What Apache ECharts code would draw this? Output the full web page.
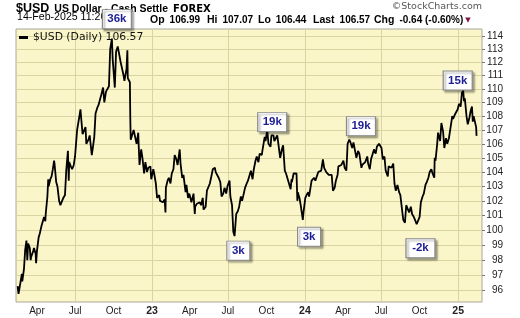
<!DOCTYPE html>
<html>
<head>
<meta charset="utf-8">
<script src="https://cdn.jsdelivr.net/npm/echarts@6/dist/echarts.min.js"></script>
<style>
html,body{margin:0;padding:0;background:#ffffff;}
#chart{width:520px;height:318px;}
</style>
</head>
<body>
<div id="chart"></div>
<script>
// ---- data: daily closes of $USD, [date, close] ----
const usd2022 = [
  ['2022-02-14',96.3],['2022-02-16',95.8],['2022-02-18',96.1],['2022-02-22',96.0],['2022-02-24',97.1],['2022-02-25',96.6],
  ['2022-03-01',97.4],['2022-03-04',98.7],['2022-03-07',99.3],['2022-03-09',98.0],['2022-03-11',99.1],['2022-03-15',98.8],
  ['2022-03-17',98.0],['2022-03-18',98.2],['2022-03-23',98.6],['2022-03-25',98.8],['2022-03-29',98.4],['2022-03-30',97.8],
  ['2022-04-01',98.6],['2022-04-05',99.5],['2022-04-08',99.8],['2022-04-12',100.3],['2022-04-14',100.3],['2022-04-18',100.9],
  ['2022-04-21',100.6],['2022-04-22',101.1],['2022-04-26',102.3],['2022-04-28',103.5],['2022-04-29',103.0],
  ['2022-05-03',103.5],['2022-05-06',103.7],['2022-05-09',104.2],['2022-05-12',104.8],['2022-05-13',104.6],['2022-05-17',103.3],
  ['2022-05-20',103.0],['2022-05-24',102.0],['2022-05-27',101.7],['2022-05-31',101.8],
  ['2022-06-03',102.2],['2022-06-07',102.4],['2022-06-10',104.1],['2022-06-14',105.5],['2022-06-16',103.4],['2022-06-17',104.7],
  ['2022-06-21',104.4],['2022-06-24',104.2],['2022-06-28',104.5],
  ['2022-07-01',105.1],['2022-07-06',107.0],['2022-07-08',107.0],['2022-07-12',108.1],['2022-07-14',108.5],['2022-07-15',108.1],
  ['2022-07-19',106.7],['2022-07-22',106.7],['2022-07-26',107.2],['2022-07-28',106.0],['2022-07-29',105.9],
  ['2022-08-02',106.3],['2022-08-05',106.6],['2022-08-10',105.2],['2022-08-12',105.6],['2022-08-16',106.5],['2022-08-19',108.2],
  ['2022-08-23',108.6],['2022-08-26',108.8],['2022-08-29',108.8],
  ['2022-09-02',109.6],['2022-09-06',110.1],['2022-09-09',109.0],['2022-09-13',109.8],['2022-09-16',109.8],['2022-09-20',110.2],
  ['2022-09-23',113.0],['2022-09-27',113.8],['2022-09-29',112.2],['2022-09-30',112.1],
  ['2022-10-04',110.1],['2022-10-07',112.8],['2022-10-11',113.2],['2022-10-14',113.3],['2022-10-18',112.0],['2022-10-21',111.9],
  ['2022-10-25',111.0],['2022-10-27',110.6],['2022-10-28',110.8],
  ['2022-11-01',111.5],['2022-11-03',112.9],['2022-11-04',110.8],['2022-11-09',110.5],['2022-11-10',107.8],['2022-11-11',106.3],
  ['2022-11-15',106.4],['2022-11-18',107.0],['2022-11-22',107.1],['2022-11-25',106.0],['2022-11-29',106.8],['2022-11-30',105.9],
  ['2022-12-02',104.5],['2022-12-06',105.6],['2022-12-09',105.0],['2022-12-13',103.9],['2022-12-15',104.4],['2022-12-16',104.7],
  ['2022-12-20',104.0],['2022-12-23',104.3],['2022-12-28',104.4],['2022-12-30',103.5]
];
const usd2023 = [
  ['2023-01-04',104.2],['2023-01-06',103.9],['2023-01-10',103.2],['2023-01-13',102.2],['2023-01-18',102.4],['2023-01-20',102.0],
  ['2023-01-24',101.9],['2023-01-27',101.9],['2023-01-31',102.1],
  ['2023-02-02',101.2],['2023-02-03',102.9],['2023-02-07',103.4],['2023-02-10',103.6],['2023-02-14',103.2],['2023-02-17',103.9],
  ['2023-02-21',104.2],['2023-02-24',105.2],['2023-02-28',104.9],
  ['2023-03-03',104.5],['2023-03-08',105.6],['2023-03-10',104.6],['2023-03-14',103.6],['2023-03-17',103.8],['2023-03-22',102.6],
  ['2023-03-24',103.1],['2023-03-28',102.2],['2023-03-31',102.5],
  ['2023-04-05',101.9],['2023-04-10',102.5],['2023-04-13',101.1],['2023-04-14',101.6],['2023-04-18',101.8],['2023-04-21',101.8],
  ['2023-04-25',101.9],['2023-04-28',101.7],
  ['2023-05-02',102.2],['2023-05-04',101.4],['2023-05-05',101.3],['2023-05-09',101.6],['2023-05-12',102.7],['2023-05-16',102.6],
  ['2023-05-19',103.2],['2023-05-24',103.9],['2023-05-26',104.2],['2023-05-31',104.3],
  ['2023-06-02',104.0],['2023-06-06',104.1],['2023-06-09',103.6],['2023-06-13',103.3],['2023-06-16',102.3],['2023-06-20',102.5],
  ['2023-06-23',102.9],['2023-06-27',102.5],['2023-06-30',103.0],
  ['2023-07-05',103.4],['2023-07-07',102.3],['2023-07-11',101.7],['2023-07-14',99.9],['2023-07-17',99.6],['2023-07-21',101.1],
  ['2023-07-25',101.3],['2023-07-28',101.6],
  ['2023-08-01',102.3],['2023-08-04',102.0],['2023-08-08',102.5],['2023-08-11',102.9],['2023-08-15',103.2],['2023-08-18',103.4],
  ['2023-08-22',103.5],['2023-08-25',104.1],['2023-08-29',103.5],
  ['2023-09-01',104.2],['2023-09-05',104.8],['2023-09-08',105.1],['2023-09-12',104.7],['2023-09-15',105.3],['2023-09-20',105.2],
  ['2023-09-22',105.6],['2023-09-27',106.5],['2023-09-29',106.2],
  ['2023-10-03',107.0],['2023-10-06',106.0],['2023-10-11',105.8],['2023-10-13',106.6],['2023-10-18',106.6],['2023-10-20',106.2],
  ['2023-10-24',106.3],['2023-10-27',106.6],['2023-10-31',106.7],
  ['2023-11-03',105.0],['2023-11-07',105.6],['2023-11-10',105.9],['2023-11-14',104.1],['2023-11-17',103.9],['2023-11-21',103.5],
  ['2023-11-24',103.4],['2023-11-28',102.8],['2023-11-30',103.5],
  ['2023-12-01',103.3],['2023-12-05',103.9],['2023-12-08',104.0],['2023-12-12',103.9],['2023-12-14',102.0],['2023-12-15',102.6],
  ['2023-12-19',102.2],['2023-12-22',101.7],['2023-12-27',100.7],['2023-12-29',101.3]
];
const usd2024 = [
  ['2024-01-02',102.2],['2024-01-05',102.4],['2024-01-09',102.6],['2024-01-11',102.3],['2024-01-12',102.4],['2024-01-17',103.4],
  ['2024-01-19',103.3],['2024-01-23',103.6],['2024-01-26',103.4],['2024-01-30',103.4],
  ['2024-02-02',104.0],['2024-02-06',104.1],['2024-02-09',104.1],['2024-02-13',104.9],['2024-02-16',104.3],['2024-02-21',104.0],
  ['2024-02-23',103.9],['2024-02-27',103.8],
  ['2024-03-01',103.9],['2024-03-05',103.8],['2024-03-08',102.7],['2024-03-12',102.9],['2024-03-15',103.4],['2024-03-19',103.8],
  ['2024-03-21',104.4],['2024-03-22',104.4],['2024-03-28',104.5],
  ['2024-04-02',104.8],['2024-04-05',104.3],['2024-04-09',104.1],['2024-04-11',105.3],['2024-04-12',106.0],['2024-04-16',106.3],
  ['2024-04-19',106.1],['2024-04-23',105.7],['2024-04-26',106.1],['2024-04-30',106.2],
  ['2024-05-03',105.0],['2024-05-07',105.5],['2024-05-10',105.3],['2024-05-15',104.3],['2024-05-17',104.5],['2024-05-21',104.6],
  ['2024-05-24',104.7],['2024-05-29',105.1],['2024-05-31',104.6],
  ['2024-06-04',104.2],['2024-06-07',104.9],['2024-06-11',105.3],['2024-06-14',105.6],['2024-06-18',105.3],['2024-06-21',105.8],
  ['2024-06-26',106.0],['2024-06-28',105.9],
  ['2024-07-02',105.7],['2024-07-05',104.9],['2024-07-09',105.1],['2024-07-12',104.1],['2024-07-17',103.7],['2024-07-19',104.4],
  ['2024-07-23',104.5],['2024-07-26',104.3],['2024-07-30',104.6],
  ['2024-08-02',103.2],['2024-08-05',102.7],['2024-08-09',103.1],['2024-08-13',102.6],['2024-08-16',102.4],['2024-08-20',101.4],
  ['2024-08-23',100.7],['2024-08-27',100.5],['2024-08-30',101.7],
  ['2024-09-03',101.8],['2024-09-06',101.2],['2024-09-10',101.6],['2024-09-13',101.1],['2024-09-17',100.9],['2024-09-20',100.7],
  ['2024-09-24',100.4],['2024-09-27',100.3],
  ['2024-10-01',100.9],['2024-10-04',101.9],['2024-10-08',102.3],['2024-10-11',102.5],['2024-10-15',103.1],['2024-10-18',103.3],
  ['2024-10-22',103.6],['2024-10-25',104.0],['2024-10-29',104.2],
  ['2024-11-01',103.9],['2024-11-05',103.6],['2024-11-06',105.0],['2024-11-08',104.8],['2024-11-12',106.0],['2024-11-14',106.8],
  ['2024-11-19',106.2],['2024-11-22',107.5],['2024-11-26',106.9],['2024-11-29',105.7],
  ['2024-12-03',106.4],['2024-12-06',106.0],['2024-12-10',106.4],['2024-12-13',107.0],['2024-12-18',108.0],['2024-12-20',107.8],
  ['2024-12-24',108.1],['2024-12-27',108.0],['2024-12-31',108.5]
];
const usd2025 = [
  ['2025-01-03',108.9],['2025-01-07',108.7],['2025-01-10',109.7],['2025-01-13',109.9],['2025-01-15',109.1],['2025-01-17',109.3],
  ['2025-01-21',108.0],['2025-01-24',107.4],['2025-01-28',107.9],['2025-01-31',108.4],
  ['2025-02-03',108.7],['2025-02-05',107.6],['2025-02-07',108.0],['2025-02-11',108.0],['2025-02-13',107.2],['2025-02-14',106.57]
];

// annotation boxes: [date, price level, text]
const notes = [
  ['2022-10-09',115.3,'36k'],
  ['2023-10-15',107.57,'19k'],
  ['2023-07-26',98.63,'3k'],
  ['2024-01-11',99.56,'3k'],
  ['2024-05-14',107.28,'19k'],
  ['2024-10-03',98.79,'-2k'],
  ['2024-12-31',110.63,'15k']
];

// axis ticks
const labelMonths = ['2022-04-01','2022-07-01','2022-10-01','2023-01-01','2023-04-01','2023-07-01',
                     '2023-10-01','2024-01-01','2024-04-01','2024-07-01','2024-10-01','2025-01-01'];
const labelTexts  = ['Apr','Jul','Oct','23','Apr','Jul','Oct','24','Apr','Jul','Oct','25'];
const gridMonths  = ['2022-07-01','2023-01-01','2023-07-01','2024-01-01','2024-07-01','2025-01-01'];
const priceTicks  = [96,97,98,99,100,101,102,103,104,105,106,107,108,109,110,111,112,113,114];
const xRange = ['2022-02-10','2025-02-27'];
const yRange = [95.27, 114.54];

// header texts
const header = {
  symbol: '$USD', name: 'US Dollar - Cash Settle', exch: 'FOREX', stamp: '14-Feb-2025 11:26',
  op: '106.99', hi: '107.07', lo: '106.44', last: '106.57', chg: '-0.64 (-0.60%)'
};

function ts(s){ const p = s.split('-').map(Number); return Date.UTC(p[0], p[1]-1, p[2]); }

const allRows = usd2022.concat(usd2023, usd2024, usd2025);
const lineData = allRows.map(r => [ts(r[0]), r[1]]);
const lastClose = allRows[allRows.length-1][1];
const labelTs = labelMonths.map(ts);
const gridTs = gridMonths.map(ts);

const chart = echarts.init(document.getElementById('chart'), null, {renderer:'canvas'});
const AR = 'Liberation Sans, Arial, sans-serif';
const DV = 'DejaVu Sans, Verdana, sans-serif';

const keyStyle = {fontFamily: AR, fontWeight: 'bold', fontSize: 10.5, color: '#000', lineHeight: 12};
const numStyle = {fontFamily: AR, fontSize: 10, color: '#000', lineHeight: 12};
const statTitle = (left, key, val) => ({
  left: left, top: 11, padding: 0,
  text: '{b|' + key + '} {n|' + val + '}',
  textStyle: { rich: { b: keyStyle, n: numStyle } }
});

const option = {
  animation: false,
  backgroundColor: '#ffffff',
  title: [
    { left: 16, top: 0, padding: 0,
      text: '{a|' + header.symbol + '} {b|' + header.name + '} {c|' + header.exch + '}',
      textStyle: { rich: {
        a: {fontFamily: AR, fontWeight: 'bold', fontSize: 12.5, color: '#000', lineHeight: 14},
        b: {fontFamily: AR, fontSize: 10.5, color: '#000', lineHeight: 14},
        c: {fontFamily: DV, fontSize: 10, color: '#000', lineHeight: 14}
      }}
    },
    { left: 17, top: 11, padding: 0, text: header.stamp,
      textStyle: {fontFamily: AR, fontSize: 10.6, fontWeight: 'normal', color: '#000', lineHeight: 12} },
    statTitle(150, 'Op', header.op),
    statTitle(207, 'Hi', header.hi),
    statTitle(258, 'Lo', header.lo),
    statTitle(313, 'Last', header.last),
    { left: 374, top: 11, padding: 0,
      text: '{b|Chg} {n|' + header.chg + '}{t|▼}',
      textStyle: { rich: {
        b: keyStyle, n: numStyle,
        t: {fontFamily: DV, fontSize: 7, color: '#7a1640', lineHeight: 12, padding: [0,0,0,2]}
      }}
    },
    { right: 38, top: 1, padding: 0, text: '©StockCharts.com',
      textStyle: {fontFamily: DV, fontSize: 9.5, fontWeight: 'normal', color: '#555', lineHeight: 12} }
  ],
  legend: {
    left: 19, top: 32, padding: 0,
    data: [{name: '$USD (Daily)', icon: 'rect'}],
    itemWidth: 9, itemHeight: 3,
    formatter: name => name + ' ' + lastClose.toFixed(2),
    textStyle: {fontFamily: DV, fontSize: 10.8, color: '#111'},
    selectedMode: false
  },
  grid: {
    left: 16, right: 38, top: 29, bottom: 16,
    show: true, backgroundColor: '#faf6c9', borderColor: '#a9a89a', borderWidth: 1
  },
  xAxis: {
    type: 'value', min: ts(xRange[0]), max: ts(xRange[1]),
    axisLine: {show: false},
    axisTick: {show: false, customValues: gridTs},
    splitLine: {show: true, lineStyle: {color: '#d9d5a3', width: 1}},
    axisLabel: {
      customValues: labelTs, margin: 4, fontFamily: AR, fontSize: 10, color: '#222',
      formatter: function (v) {
        const i = labelTs.indexOf(v);
        const t = i >= 0 ? labelTexts[i] : '';
        return /^\d+$/.test(t) ? '{y|' + t + '}' : t;
      },
      rich: {y: {fontFamily: AR, fontSize: 10.5, fontWeight: 'bold', color: '#222'}}
    }
  },
  yAxis: {
    type: 'log', logBase: 10, position: 'right',
    min: yRange[0], max: yRange[1],
    axisLine: {show: false},
    axisTick: {show: true, length: 3, customValues: priceTicks, lineStyle: {color: '#777'}},
    splitLine: {show: true, lineStyle: {color: '#d9d5a3', width: 1}},
    axisLabel: {
      customValues: priceTicks, align: 'right', margin: 21,
      fontFamily: AR, fontSize: 10, color: '#222',
      formatter: v => String(Math.round(v))
    }
  },
  series: [
    {
      name: '$USD (Daily)', type: 'line', data: lineData,
      showSymbol: false, symbol: 'none',
      lineStyle: {color: '#000', width: 1.8},
      itemStyle: {color: '#000'},
      z: 3
    },
    {
      name: 'notes', type: 'scatter', clip: false,
      data: notes.map(n => [ts(n[0]), n[1]]),
      symbol: 'rect',
      symbolSize: (val, p) => [11 + 6 * notes[p.dataIndex][2].length, 19],
      itemStyle: {color: '#ffffff', borderColor: '#8a8a8a', borderWidth: 1,
                  shadowColor: 'rgba(0,0,0,0.35)', shadowBlur: 2, shadowOffsetX: 2, shadowOffsetY: 2, opacity: 1},
      label: {show: true, position: 'inside',
              formatter: p => notes[p.dataIndex][2],
              fontFamily: AR, fontWeight: 'bold', fontSize: 11.5, color: '#1c1c96'},
      emphasis: {disabled: true},
      z: 10
    }
  ]
};
chart.setOption(option);
</script>
</body>
</html>
